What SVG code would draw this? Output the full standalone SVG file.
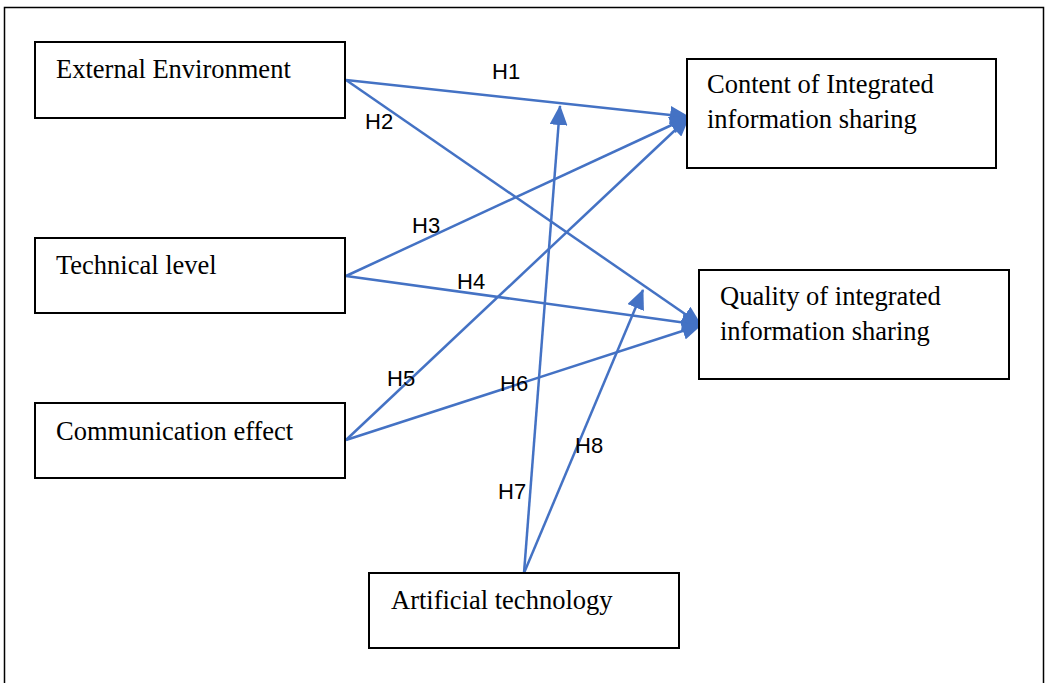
<svg xmlns="http://www.w3.org/2000/svg" width="1045" height="683" viewBox="0 0 1045 683">
<style>
.box{fill:#fff;stroke:#000;stroke-width:2}
.t{font-family:"Liberation Serif","Times New Roman",serif;font-size:26.5px;fill:#000}
.lbl{font-family:"Liberation Sans",Arial,sans-serif;font-size:22px;fill:#000}
.c{stroke:#4472C4;stroke-width:2.5;fill:none}
.ca{stroke:#4472C4;stroke-width:2.5;fill:none;marker-end:url(#ah)}
</style>
<defs>
<marker id="ah" markerUnits="userSpaceOnUse" markerWidth="20" markerHeight="18" viewBox="0 0 20 18" refX="19" refY="9" orient="auto">
<path d="M0,0 L20,9 L0,18 Z" fill="#4472C4"/>
</marker>
</defs>
<rect x="0" y="0" width="1045" height="683" fill="#fff"/>
<rect x="4.5" y="7.5" width="1039" height="690" fill="none" stroke="#000" stroke-width="1.5"/>
<g id="connectors">
<line class="ca" x1="346" y1="80" x2="689" y2="117"/>
<line class="ca" x1="346" y1="80" x2="701" y2="325"/>
<line class="ca" x1="346" y1="276" x2="689" y2="117"/>
<line class="ca" x1="346" y1="276" x2="701" y2="325"/>
<line class="ca" x1="346" y1="440" x2="689" y2="117"/>
<line class="ca" x1="346" y1="440" x2="701" y2="325"/>
<line class="ca" x1="524" y1="573" x2="560" y2="106"/>
<line class="ca" x1="524" y1="573" x2="643" y2="290"/>
<text class="lbl" x="492" y="79">H1</text>
<text class="lbl" x="365" y="129">H2</text>
<text class="lbl" x="412" y="233">H3</text>
<text class="lbl" x="457" y="289">H4</text>
<text class="lbl" x="387" y="386">H5</text>
<text class="lbl" x="500" y="391">H6</text>
<text class="lbl" x="498" y="499">H7</text>
<text class="lbl" x="575" y="453">H8</text>
</g>
<g id="external">
<rect class="box" x="35" y="42" width="310" height="76"/>
<text class="t" x="56" y="78">External Environment</text>
</g>
<g id="technical">
<rect class="box" x="35" y="238" width="310" height="75"/>
<text class="t" x="56" y="274">Technical level</text>
</g>
<g id="communication">
<rect class="box" x="35" y="403" width="310" height="75"/>
<text class="t" x="56" y="440">Communication effect</text>
</g>
<g id="content">
<rect class="box" x="687" y="59" width="309" height="109"/>
<text class="t" x="707" y="93">Content of Integrated</text>
<text class="t" x="707" y="128">information sharing</text>
</g>
<g id="quality">
<rect class="box" x="699" y="270" width="310" height="109"/>
<text class="t" x="720" y="305">Quality of integrated</text>
<text class="t" x="720" y="340">information sharing</text>
</g>
<g id="artificial">
<rect class="box" x="369" y="573" width="310" height="75"/>
<text class="t" x="391" y="609">Artificial technology</text>
</g>
</svg>
